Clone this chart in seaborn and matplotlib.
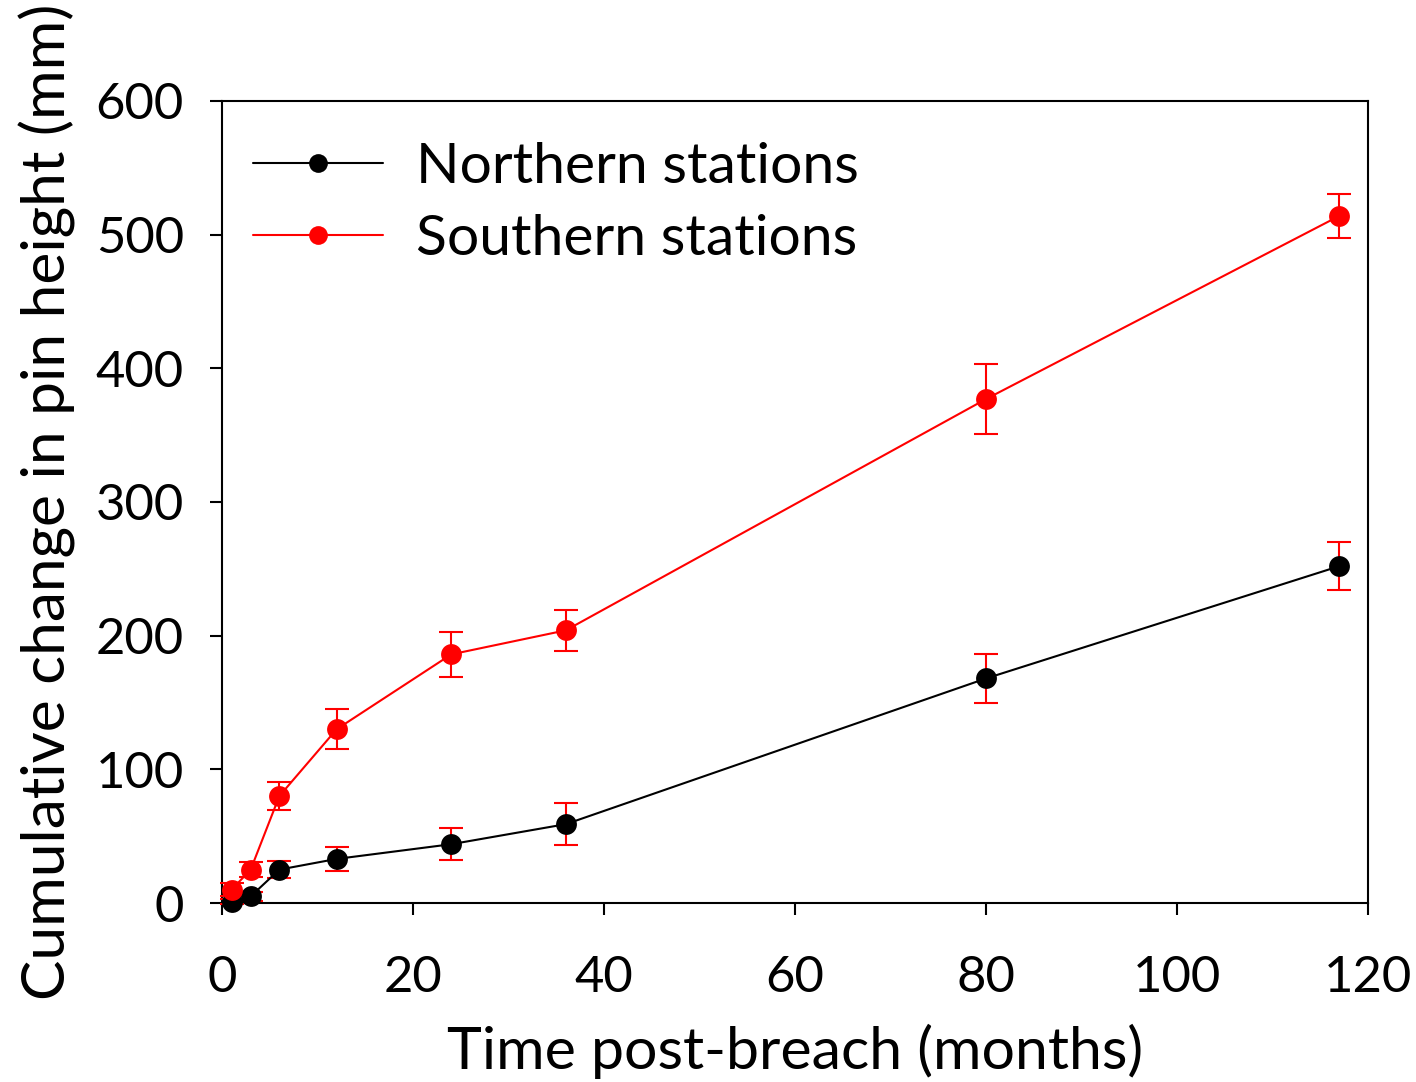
import matplotlib
matplotlib.use("Agg")
import matplotlib.pyplot as plt
import seaborn as sns
import pandas as pd

months = [1, 3, 6, 12, 24, 36, 80, 117]
north = [1, 5, 25, 33, 44, 59, 168, 252]
north_err = [2, 3.5, 6.5, 9, 12, 15.5, 18, 18]
south = [10, 25, 80, 130, 186, 204, 377, 514]
south_err = [5, 5.5, 10.5, 15, 17, 15.5, 26, 16.5]
series_names = ["Northern stations", "Southern stations"]
x_ticks = [0, 20, 40, 60, 80, 100, 120]
y_ticks = [0, 100, 200, 300, 400, 500, 600]

sns.set_theme(style="ticks")
plt.rcParams['font.family'] = ['Lato', 'DejaVu Sans']
plt.rcParams['text.color'] = 'black'
plt.rcParams['axes.labelcolor'] = 'black'
plt.rcParams['xtick.color'] = 'black'
plt.rcParams['ytick.color'] = 'black'

df = pd.DataFrame({
    "month": months * 2,
    "value": north + south,
    "series": [series_names[0]] * len(months) + [series_names[1]] * len(months),
})

fig = plt.figure(figsize=(14.16, 10.82), dpi=100)
ax = fig.add_axes([0.1568, 0.1654, 0.8093, 0.7413])

for vals, errs in ((north, north_err), (south, south_err)):
    eb = ax.errorbar(months, vals, yerr=errs, fmt='none', ecolor='red',
                     elinewidth=1.5, capsize=8.5, capthick=1.5, zorder=2)
    for art in eb.lines[1]:
        art.set_clip_on(False)
    for art in eb.lines[2]:
        art.set_clip_on(False)

sns.lineplot(data=df, x="month", y="value", hue="series",
             palette={series_names[0]: "black", series_names[1]: "red"},
             marker="o", markersize=15, markeredgewidth=0, linewidth=1.5,
             ax=ax, zorder=3, clip_on=False)

ax.set_xlim(0, 120)
ax.set_ylim(0, 600)
ax.set_xticks(x_ticks)
ax.set_yticks(y_ticks)
ax.tick_params(axis='both', direction='out', length=8.5, width=1.5,
               labelsize=36.5, colors='black')
ax.tick_params(axis='x', pad=29)
ax.tick_params(axis='y', pad=19)
for s in ax.spines.values():
    s.set_visible(True)
    s.set_linewidth(1.5)
    s.set_color('black')
    s.set_zorder(1)

ax.set_xlabel("Time post-breach (months)", fontsize=42.5, labelpad=16, color='black')
ax.set_ylabel("Cumulative change in pin height (mm)", fontsize=43.5, labelpad=14, color='black')

leg = ax.legend(loc='upper left', frameon=False, fontsize=41,
                handlelength=2.28, handletextpad=0.58, labelspacing=0.37,
                borderaxespad=0.15, bbox_to_anchor=(0.0, 0.988))
for h in leg.legend_handles:
    h.set_markersize(13.5)
for t in leg.get_texts():
    t.set_color('black')

fig.savefig("out.png", dpi=100, facecolor='white')
